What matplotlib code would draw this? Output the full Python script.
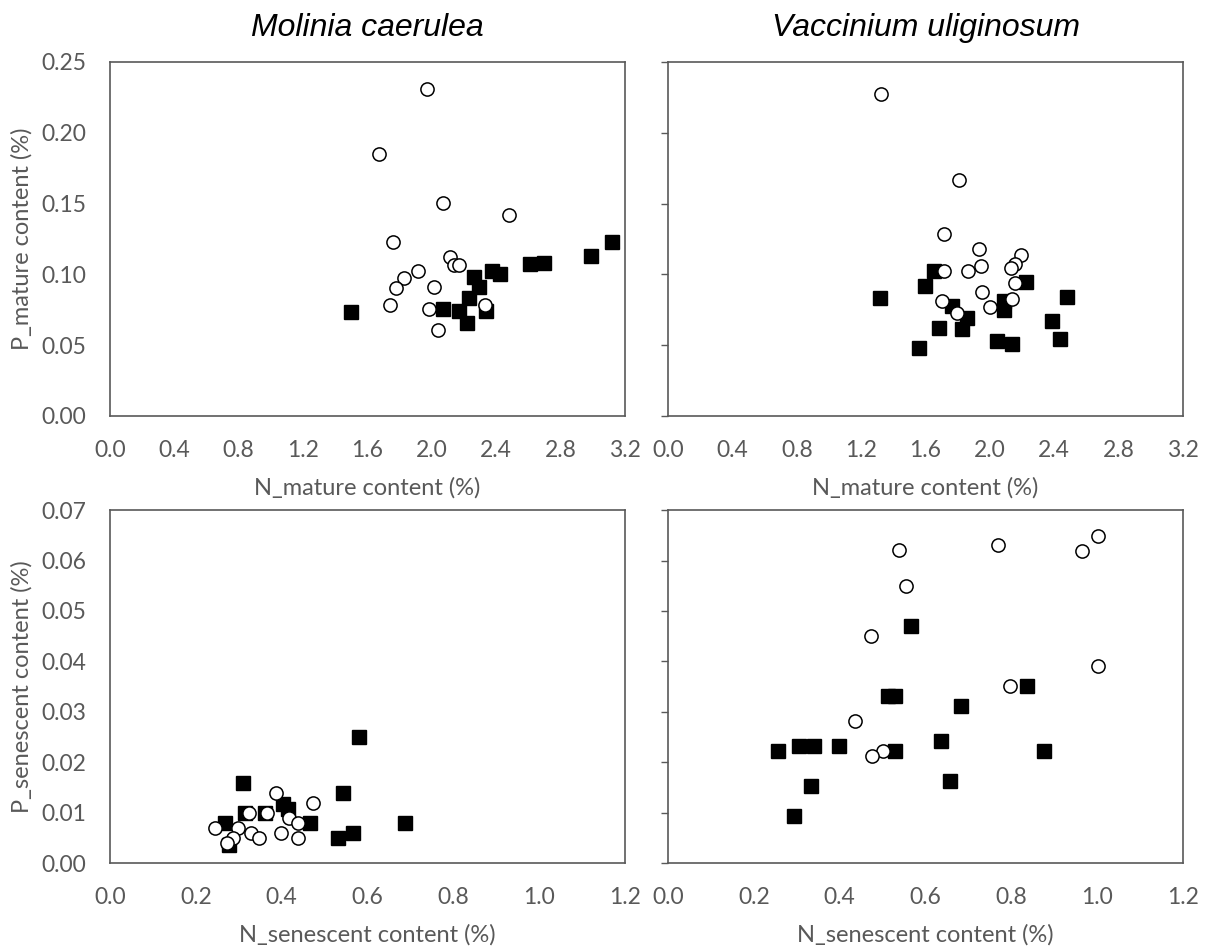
import matplotlib.pyplot as plt

plt.rcParams['font.family'] = ['Lato', 'DejaVu Sans']

# ── Molinia caerulea, mature leaves ──
mol_mat_sq_n = [1.495, 2.067, 2.169, 2.216, 2.231, 2.264, 2.291, 2.334, 2.375, 2.423, 2.610, 2.695, 2.989, 3.117]
mol_mat_sq_p = [0.0734, 0.0753, 0.0744, 0.0656, 0.0836, 0.0984, 0.0914, 0.0739, 0.1027, 0.1003, 0.1076, 0.1083, 0.1133, 0.1225]
mol_mat_ci_n = [1.970, 1.669, 2.067, 2.481, 1.760, 2.113, 2.139, 2.169, 1.916, 1.827, 1.779, 2.013, 1.740, 1.980, 2.330, 2.036]
mol_mat_ci_p = [0.2307, 0.1853, 0.1506, 0.1416, 0.1227, 0.1126, 0.1067, 0.1067, 0.1027, 0.0973, 0.0907, 0.0914, 0.0786, 0.0755, 0.0786, 0.0607]

# ── Vaccinium uliginosum, mature leaves ──
vac_mat_sq_n = [1.317, 1.655, 1.599, 1.767, 1.856, 1.825, 1.686, 1.562, 2.086, 2.086, 2.044, 2.136, 2.226, 2.388, 2.434, 2.477]
vac_mat_sq_p = [0.0836, 0.1025, 0.0920, 0.0779, 0.0689, 0.0611, 0.0618, 0.0479, 0.0814, 0.0749, 0.0529, 0.0508, 0.0947, 0.0668, 0.0547, 0.0838]
vac_mat_ci_n = [1.323, 1.808, 1.713, 1.931, 2.193, 2.156, 2.129, 1.945, 1.862, 1.715, 2.154, 1.953, 1.702, 2.139, 1.999, 1.796]
vac_mat_ci_p = [0.2271, 0.1664, 0.1287, 0.1176, 0.1140, 0.1076, 0.1044, 0.1058, 0.1025, 0.1025, 0.0940, 0.0878, 0.0814, 0.0828, 0.0770, 0.0729]

# ── Molinia caerulea, senescent leaves ──
mol_sen_sq_n = [0.580, 0.311, 0.544, 0.404, 0.415, 0.315, 0.361, 0.268, 0.466, 0.687, 0.566, 0.532, 0.278]
mol_sen_sq_p = [0.0249, 0.0159, 0.0139, 0.0118, 0.0108, 0.0099, 0.0099, 0.0079, 0.0079, 0.0079, 0.0059, 0.0049, 0.0036]
mol_sen_ci_n = [0.386, 0.472, 0.324, 0.365, 0.418, 0.437, 0.245, 0.298, 0.329, 0.399, 0.347, 0.437, 0.287, 0.273]
mol_sen_ci_p = [0.0139, 0.0119, 0.0099, 0.0099, 0.0089, 0.0079, 0.0069, 0.0069, 0.0059, 0.0059, 0.0049, 0.0049, 0.0049, 0.0039]

# ── Vaccinium uliginosum, senescent leaves ──
vac_sen_sq_n = [0.565, 0.513, 0.529, 0.683, 0.637, 0.256, 0.305, 0.340, 0.398, 0.528, 0.332, 0.657, 0.294, 0.836, 0.875]
vac_sen_sq_p = [0.0471, 0.0331, 0.0331, 0.0311, 0.0242, 0.0222, 0.0232, 0.0232, 0.0232, 0.0222, 0.0152, 0.0163, 0.0093, 0.0351, 0.0222]
vac_sen_ci_n = [0.538, 0.769, 0.555, 0.474, 0.796, 0.435, 0.500, 0.475, 0.965, 1.003, 1.003]
vac_sen_ci_p = [0.0620, 0.0630, 0.0550, 0.0451, 0.0352, 0.0282, 0.0223, 0.0212, 0.0619, 0.0649, 0.0391]

mat_xticks = [0.0, 0.4, 0.8, 1.2, 1.6, 2.0, 2.4, 2.8, 3.2]
mat_yticks = [0.00, 0.05, 0.10, 0.15, 0.20, 0.25]
sen_xticks = [0.0, 0.2, 0.4, 0.6, 0.8, 1.0, 1.2]
sen_yticks = [0.00, 0.01, 0.02, 0.03, 0.04, 0.05, 0.06, 0.07]

grey = '#595959'
fs = 16.5

fig = plt.figure(figsize=(12.1, 9.46), dpi=100)
ax1 = fig.add_axes([0.0909, 0.5603, 0.4256, 0.3742])
ax2 = fig.add_axes([0.5521, 0.5603, 0.4256, 0.3742])
ax3 = fig.add_axes([0.0909, 0.0877, 0.4256, 0.3731])
ax4 = fig.add_axes([0.5521, 0.0877, 0.4256, 0.3731])


def scatter(ax, sq_x, sq_y, ci_x, ci_y):
    ax.plot(sq_x, sq_y, 's', color='black', markersize=10, linestyle='none')
    ax.plot(ci_x, ci_y, 'o', markerfacecolor='white', markeredgecolor='black',
            markeredgewidth=1.1, markersize=9.5, linestyle='none')


def style(ax, xticks, yticks, xfmt, yfmt, left_labels):
    ax.set_xlim(xticks[0], xticks[-1])
    ax.set_ylim(yticks[0], yticks[-1])
    ax.set_xticks(xticks)
    ax.set_xticklabels([xfmt.format(v) for v in xticks])
    ax.set_yticks(yticks)
    if left_labels:
        ax.set_yticklabels([yfmt.format(v) for v in yticks])
        ax.tick_params(axis='y', length=0, pad=17)
    else:
        ax.set_yticklabels([])
        ax.tick_params(axis='y', length=5, width=1, color=grey, direction='out')
    ax.tick_params(axis='x', length=0, pad=17)
    ax.tick_params(labelsize=fs, labelcolor=grey)
    for s in ax.spines.values():
        s.set_color(grey)
        s.set_linewidth(1.2)


scatter(ax1, mol_mat_sq_n, mol_mat_sq_p, mol_mat_ci_n, mol_mat_ci_p)
scatter(ax2, vac_mat_sq_n, vac_mat_sq_p, vac_mat_ci_n, vac_mat_ci_p)
scatter(ax3, mol_sen_sq_n, mol_sen_sq_p, mol_sen_ci_n, mol_sen_ci_p)
scatter(ax4, vac_sen_sq_n, vac_sen_sq_p, vac_sen_ci_n, vac_sen_ci_p)

style(ax1, mat_xticks, mat_yticks, '{:.1f}', '{:.2f}', True)
style(ax2, mat_xticks, mat_yticks, '{:.1f}', '{:.2f}', False)
style(ax3, sen_xticks, sen_yticks, '{:.1f}', '{:.2f}', True)
style(ax4, sen_xticks, sen_yticks, '{:.1f}', '{:.2f}', False)

title_font = dict(fontsize=23, style='italic', family=['Liberation Sans', 'DejaVu Sans'])
ax1.set_title('Molinia caerulea', pad=19, **title_font)
ax2.set_title('Vaccinium uliginosum', pad=19, **title_font)

for ax in (ax1, ax2):
    ax.set_xlabel('N_mature content (%)', fontsize=17, color=grey, labelpad=12)
for ax in (ax3, ax4):
    ax.set_xlabel('N_senescent content (%)', fontsize=17, color=grey, labelpad=12)
ax1.set_ylabel('P_mature content (%)', fontsize=17, color=grey, labelpad=6)
ax3.set_ylabel('P_senescent content (%)', fontsize=17, color=grey, labelpad=6)

plt.savefig('out.png', dpi=100)
plt.close()
